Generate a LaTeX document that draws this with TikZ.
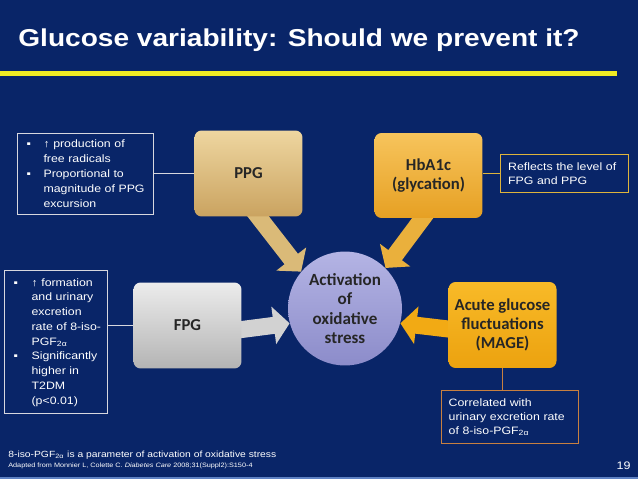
\documentclass[tikz,border=0pt]{standalone}
\usepackage{fontspec}
\setmainfont{Liberation Sans}[FakeStretch=1.15]
\newfontfamily\labelfont{Carlito}
\usetikzlibrary{arrows.meta, calc}

\definecolor{slidebg}{RGB}{9,37,104}
\definecolor{slidestrip}{RGB}{95,130,195}
\definecolor{ruleyellow}{RGB}{240,236,35}
\definecolor{ppgtop}{RGB}{238,214,160}
\definecolor{ppgbot}{RGB}{202,163,96}
\definecolor{ppgarrow}{RGB}{218,186,120}
\definecolor{hbatop}{RGB}{247,196,92}
\definecolor{hbabot}{RGB}{230,160,35}
\definecolor{hbaarrow}{RGB}{234,176,60}
\definecolor{magetop}{RGB}{248,186,40}
\definecolor{magebot}{RGB}{236,162,15}
\definecolor{magearrow}{RGB}{242,170,20}
\definecolor{fpgtop}{RGB}{236,236,236}
\definecolor{fpgbot}{RGB}{180,180,180}
\definecolor{fpgarrow}{RGB}{210,210,210}
\definecolor{acttop}{RGB}{180,180,228}
\definecolor{actbot}{RGB}{140,140,202}
\definecolor{labeltext}{RGB}{38,38,38}
\definecolor{notegray}{RGB}{215,215,222}
\definecolor{notegold}{RGB}{222,180,60}
\definecolor{notebrown}{RGB}{200,128,64}

\pgfdeclarelayer{slide}
\pgfdeclarelayer{flow}
\pgfsetlayers{slide,flow,main}

\begin{document}
\begin{tikzpicture}[x=0.02cm, y=-0.02cm]
  \tikzstyle{box} = [rounded corners=4pt, minimum width=2.16cm, minimum height=1.72cm, align=center, text=labeltext, font=\labelfont\bfseries\fontsize{9.5}{10.8}\selectfont]
  \tikzstyle{note} = [draw, line width=0.8pt, anchor=north west, align=left, inner ysep=0pt, text=white, font=\fontsize{6.1}{8.5}\selectfont]
  \tikzstyle{bigarrow} = [line width=0.34cm, -{Triangle[length=0.32cm, width=0.74cm]}, shorten <=-0.2cm]
  \useasboundingbox (0,0) rectangle (638,479);
  \begin{pgfonlayer}{slide}
    \fill[slidebg] (0,0) rectangle (638,479);
    \fill[slidestrip] (0,476.5) rectangle (638,479);
  \end{pgfonlayer}
  \node[anchor=base west, inner sep=0pt, text=white, font=\bfseries\fontsize{13.9}{16}\selectfont] (title) at (18,47) {Glucose variability: Should we prevent it?};
  \draw[ruleyellow, line width=5*0.02cm] (0,74) -- (617,74);

  \node[box, top color=ppgtop, bottom color=ppgbot] (ppg) at (248.5,173.5) {PPG};
  \node[box, top color=hbatop, bottom color=hbabot, minimum height=1.7cm] (hba) at (428.5,175.5) {HbA1c\\(glycation)};
  \node[box, top color=fpgtop, bottom color=fpgbot] (fpg) at (187.5,325.5) {FPG};
  \node[box, top color=magetop, bottom color=magebot] (mage) at (502.5,325) {Acute glucose\\fluctuations\\(MAGE)};
  \node[circle, minimum size=2.28cm, inner sep=0pt, top color=acttop, bottom color=actbot, align=center, text=labeltext, font=\labelfont\bfseries\fontsize{9.7}{11}\selectfont] (act) at (345,308.5) {Activation\\of\\oxidative\\stress};

  \node[note, draw=notegray, inner xsep=0.18cm, text width=2.36cm, minimum height=1.62cm] (ppgnote) at (17,133) {\begin{tabular}{@{}p{9.6pt}@{}l@{}}
    ▪ & ↑ production of\\
      & free radicals\\
    ▪ & Proportional to\\
      & magnitude of PPG\\
      & excursion
  \end{tabular}};
  \node[note, draw=notegray, inner xsep=0.18cm, text width=1.7cm, minimum height=2.86cm, font=\fontsize{6.1}{8.4}\selectfont] (fpgnote) at (4,270) {\begin{tabular}{@{}p{10.2pt}@{}l@{}}
    ▪ & ↑ formation\\
      & and urinary\\
      & excretion\\
      & rate of 8-iso-\\
      & PGF\textsubscript{2α}\\
    ▪ & Significantly\\
      & higher in\\
      & T2DM\\
      & (p<0.01)
  \end{tabular}};
  \node[note, draw=notegold, inner xsep=0.15cm, text width=2.26cm, minimum height=0.76cm] (hbanote) at (500,154) {Reflects the level of\\FPG and PPG};
  \node[note, draw=notebrown, inner xsep=0.14cm, text width=2.46cm, minimum height=1.06cm, font=\fontsize{6.1}{8}\selectfont] (magenote) at (441,390) {Correlated with\\urinary excretion rate\\of 8-iso-PGF\textsubscript{2α}};

  \draw[notegray, line width=0.8pt] (ppg.west) -- (ppg.west -| ppgnote.east);
  \draw[notegray, line width=0.8pt] (fpg.west) -- (fpg.west -| fpgnote.east);
  \draw[notegold, line width=0.8pt] (hbanote.west) -- (hbanote.west -| hba.east);
  \draw[notebrown, line width=0.8pt] (mage.south) -- (mage.south |- magenote.north);

  \begin{pgfonlayer}{flow}
    \draw[bigarrow, ppgarrow] ($(ppg.south)+(10,0)$) -- (act.140);
    \draw[bigarrow, hbaarrow] ($(hba.south)+(-6,0)$) -- (act.45);
    \draw[bigarrow, fpgarrow] ($(fpg.east)+(0,4)$) -- (act.195);
    \draw[bigarrow, magearrow] ($(mage.west)+(0,4)$) -- (act.-15);
  \end{pgfonlayer}

  \node[anchor=base west, inner sep=0pt, text=white, font=\fontsize{5.1}{6}\selectfont] (isonote) at (8,457) {8-iso-PGF\textsubscript{2α} is a parameter of activation of oxidative stress};
  \node[anchor=base west, inner sep=0pt, text=white, font=\fontsize{3.6}{5}\selectfont] (source) at (8,467) {Adapted from Monnier L, Colette C. \textit{Diabetes Care} 2008;31(Suppl2):S150-4};
  \node[anchor=base east, inner sep=0pt, text=white, font=\fontsize{6.2}{7}\selectfont] (pagenum) at (631,469) {19};
\end{tikzpicture}
\end{document}
